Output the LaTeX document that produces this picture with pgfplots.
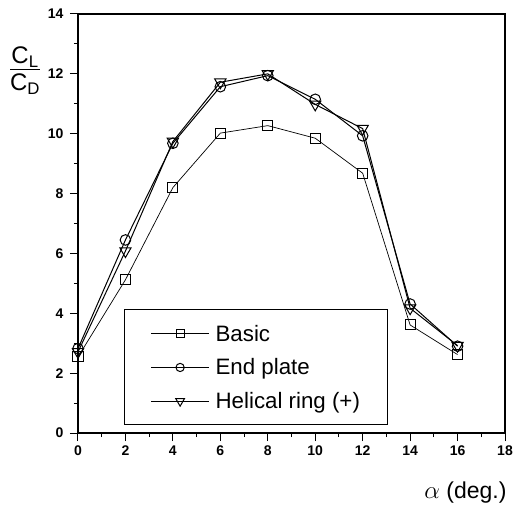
\documentclass[border=0pt]{standalone}
\usepackage{pgfplots}
\pgfplotsset{compat=1.18}
\usepackage{fontspec}
\setmainfont{Liberation Sans}
\begin{document}
\begin{tikzpicture}
\useasboundingbox (-78pt,-73pt) rectangle (435pt,433pt);
\begin{axis}[
  at={(0pt,0pt)}, anchor=south west,
  scale only axis,
  width=427pt, height=419pt,
  xmin=0, xmax=18, ymin=0, ymax=14,
  xtick={0,2,...,18}, ytick={0,2,...,14},
  minor x tick num=1, minor y tick num=1,
  tick align=outside,
  xtick pos=bottom, ytick pos=left,
  major tick length=8pt, minor tick length=4pt,
  every tick/.style={black, line width=1pt},
  axis line style={line width=1.1pt},
  /pgf/number format/assume math mode=true,
  ticklabel style={font=\fontsize{14}{16}\selectfont\bfseries},
  xticklabel style={yshift=-1pt},
  yticklabel style={xshift=-3pt},
  clip=false,
  legend style={at={(0.108,0.018)}, anchor=south west, draw=black, line width=1pt,
    font=\fontsize{22.3}{26}\selectfont, row sep=12pt, column sep=4pt, inner xsep=26pt, inner ysep=13pt},
  legend cell align=left,
  legend image code/.code={\draw[#1, mark repeat=2, mark phase=2, every mark/.append style={scale=0.78}] plot coordinates {(0pt,0pt) (29pt,0pt) (58pt,0pt)};},
  every axis plot/.append style={black, line width=0.7pt, mark options={solid, fill=white, line width=1pt}},
]
\addplot[mark=square, mark size=5pt] coordinates {
(0,2.54) (2,5.12) (4,8.2) (6,10.02) (8,10.27) (10,9.85) (12,8.68) (14,3.61) (16,2.62)};
\addlegendentry{Basic}
\addplot[mark=o, mark size=5.3pt, line width=1pt] coordinates {
(0,2.82) (2,6.45) (4,9.68) (6,11.57) (8,11.94) (10,11.15) (12,9.93) (14,4.31) (16,2.9)};
\addlegendentry{End plate}
\addplot[mark=triangle, mark size=6.5pt, mark options={rotate=180}, line width=1pt] coordinates {
(0,2.71) (2,6.08) (4,9.74) (6,11.72) (8,12.0) (10,10.98) (12,10.17) (14,4.17) (16,2.92)};
\addlegendentry{Helical ring (+)}
\node[anchor=east, font=\fontsize{23}{26}\selectfont] at ([xshift=5pt]axis cs:18,-2.0) {$\alpha$ (deg.)};
\node[font=\fontsize{24}{27}\selectfont, inner sep=0pt] at (rel axis cs:-0.124,0.862)
  {\begin{tabular}{@{}c@{}}C\textsubscript{L}\\[-3pt]\hline\rule{0pt}{22pt}C\textsubscript{D}\end{tabular}};
\end{axis}
\end{tikzpicture}
\end{document}
